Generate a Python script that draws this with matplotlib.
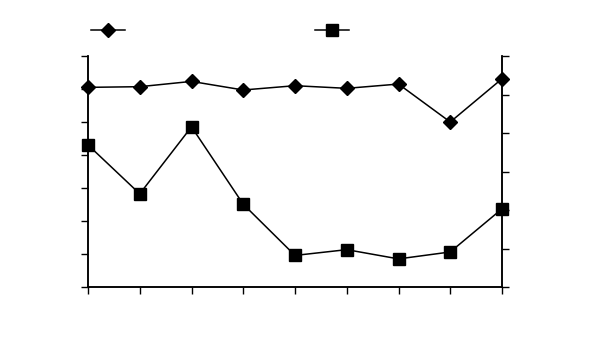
import numpy as np
import matplotlib.pyplot as plt
from matplotlib.lines import Line2D

# values (no labels are shown in the original)
points = list(range(9))
series_a = [6.05, 6.07, 6.23, 5.97, 6.10, 6.02, 6.15, 5.00, 6.31]   # diamonds, left axis
series_b = [3.69, 2.42, 4.16, 2.15, 0.82, 0.97, 0.73, 0.91, 2.03]   # squares, right axis
left_ticks = list(range(8))
right_ticks = list(range(7))

fig = plt.figure(figsize=(5.99, 3.59), dpi=100)
ax = fig.add_axes([88 / 599, 72 / 359, 414 / 599, 231 / 359])
ax2 = ax.twinx()

ax.plot(points, series_a, color="black", lw=1.1, marker="D", ms=7.5,
        clip_on=False, zorder=3)
ax2.plot(points, series_b, color="black", lw=1.1, marker="s", ms=8,
         clip_on=False, zorder=3)

ax.set_xlim(0, 8)
ax.set_ylim(0, 7)
ax2.set_ylim(0, 6)
ax.set_xticks(points)
ax.set_yticks(left_ticks)
ax2.set_yticks(right_ticks)
for a in (ax, ax2):
    a.tick_params(direction="out", length=5, width=1, colors="black",
                  labelleft=False, labelright=False, labelbottom=False)
    a.spines["top"].set_visible(False)
    for s in ("left", "right", "bottom"):
        a.spines[s].set_linewidth(1.1)

handles = [
    Line2D([], [], color="black", lw=1.1, marker="D", ms=7.5),
    Line2D([], [], color="black", lw=1.1, marker="s", ms=8),
]
fig.legend(handles, ["", ""], ncol=2, frameon=False, loc="center left",
           bbox_to_anchor=(91 / 599, 1 - 31 / 359), borderpad=0,
           borderaxespad=0, handlelength=2.45, handletextpad=0,
           columnspacing=13.7, fontsize=10)

fig.savefig("out.png", dpi=100)
